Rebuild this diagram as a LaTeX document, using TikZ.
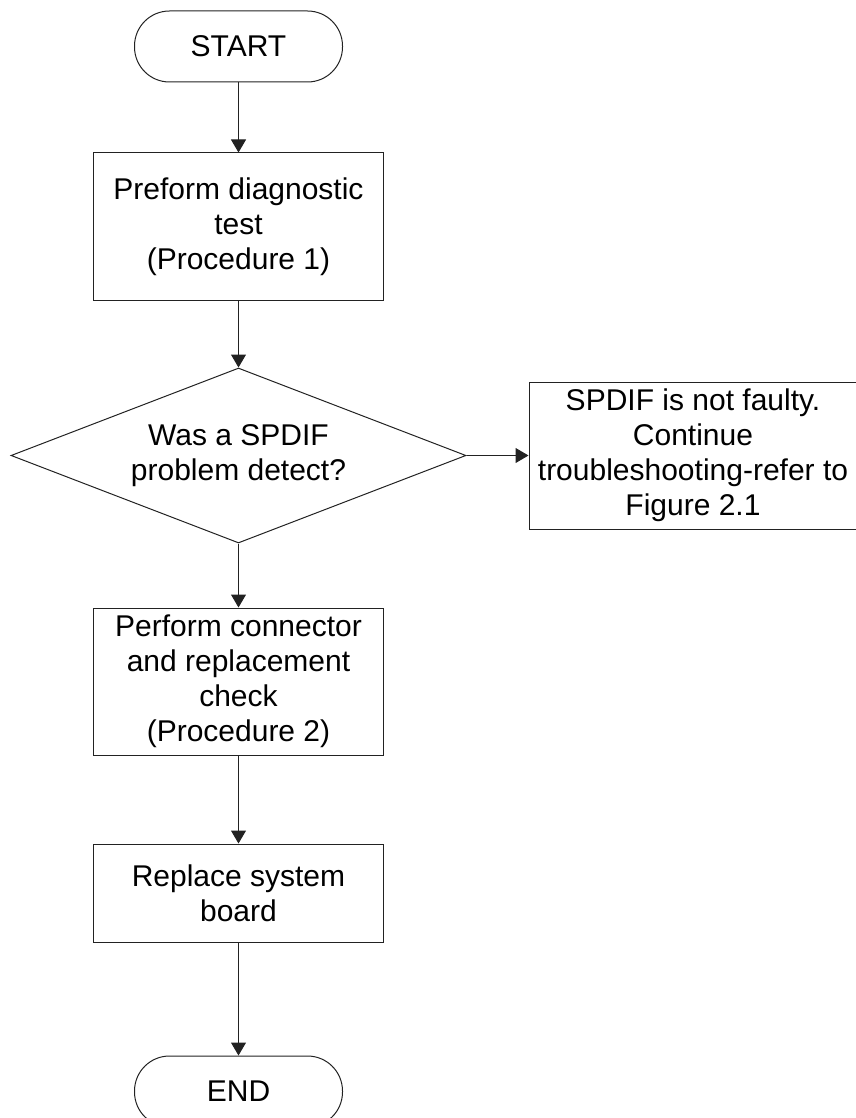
\documentclass[tikz,border=0pt]{standalone}
\usepackage{fontspec}
\setmainfont{Liberation Sans}
\usepackage{tikz}
\usetikzlibrary{shapes.geometric, arrows.meta, positioning}
\definecolor{EdgeGray}{HTML}{222222}

\tikzset{
    terminal/.style={draw=EdgeGray, line width=1pt, rounded corners=35pt,
                     minimum width=208pt, minimum height=71pt, inner sep=0pt},
    process/.style={draw=EdgeGray, line width=1pt, align=center,
                    minimum width=290pt, minimum height=147pt, inner sep=2pt},
    decision/.style={draw=EdgeGray, line width=1pt, diamond, shape aspect=2.6,
                     align=center, minimum width=455pt, minimum height=175pt,
                     inner sep=0pt},
    flowarrow/.style={draw=EdgeGray, line width=1pt,
                      -{Triangle[width=15pt,length=13pt]}}
}

\begin{document}
\begin{tikzpicture}[x=1pt, y=-1pt,
    every node/.style={font=\fontsize{30}{35}\selectfont}]
\useasboundingbox (0,0) rectangle (855,1118);

\node[terminal] (start) at (238.5,46.5) {START};
\node[process, below=70pt of start] (diag) {Preform diagnostic\\ test\\ (Procedure 1)};
\node[decision, below=67pt of diag] (detect) {Was a SPDIF\\ problem detect?};
\node[process, right=62pt of detect, minimum width=328pt] (notfaulty)
    {SPDIF is not faulty.\\ Continue\\ troubleshooting-refer to\\ Figure 2.1};
\node[process, below=64pt of detect] (check)
    {Perform connector\\ and replacement\\ check\\ (Procedure 2)};
\node[process, below=88pt of check, minimum height=98pt] (replace) {Replace system\\ board};
\node[terminal, below=113pt of replace] (end) {END};

\draw[flowarrow] (start) -- (diag);
\draw[flowarrow] (diag) -- (detect);
\draw[flowarrow] (detect) -- (notfaulty);
\draw[flowarrow] (detect) -- (check);
\draw[flowarrow] (check) -- (replace);
\draw[flowarrow] (replace) -- (end);
\end{tikzpicture}
\end{document}
